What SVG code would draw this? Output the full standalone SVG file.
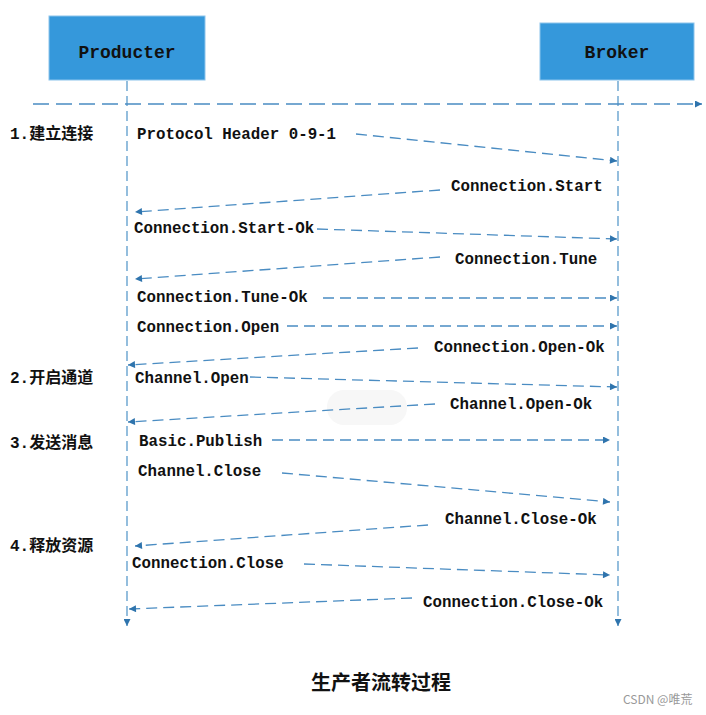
<svg xmlns="http://www.w3.org/2000/svg" width="706" height="715" viewBox="0 0 706 715">
<style>
.box{fill:#3598db;stroke:#8cc4ec;stroke-width:1}
.hd{font-family:"Liberation Mono",monospace;font-weight:bold;font-size:18px;fill:#111;text-anchor:middle}
.m{font-family:"Liberation Mono",monospace;font-weight:bold;font-size:15.8px;fill:#111}
.cn{font-family:"Liberation Mono","Noto Sans CJK SC",sans-serif;font-weight:bold;font-size:16px;fill:#111}
.life{stroke:#5b9bcb;stroke-width:1.3;stroke-dasharray:10 5;fill:none}
.msg{stroke:#4a8cc2;stroke-width:1.3;stroke-dasharray:11 6;fill:none;marker-end:url(#ah)}
.axis{stroke:#4a8cc2;stroke-width:1.3;stroke-dasharray:16 7;fill:none;marker-end:url(#ah)}
</style>
<defs>
<marker id="ah" viewBox="0 0 10 10" refX="10" refY="5" markerWidth="8" markerHeight="7" markerUnits="userSpaceOnUse" orient="auto">
<path d="M0,0 L10,5 L0,10 z" fill="#2f74ad"/>
</marker>
</defs>
<rect width="706" height="715" fill="#fff"/>
<rect x="327" y="390" width="80" height="35" rx="17" fill="#f7f7f7"/>
<g id="producer">
<rect class="box" x="49" y="16" width="156" height="64"/>
<text class="hd" x="127" y="58">Producter</text>
</g>
<g id="broker">
<rect class="box" x="540" y="23" width="154" height="57"/>
<text class="hd" x="617" y="58">Broker</text>
</g>
<g id="connectors">
<line class="life" x1="127" y1="81" x2="127" y2="626" marker-end="url(#ah)"/>
<line class="life" x1="618" y1="81" x2="618" y2="626" marker-end="url(#ah)"/>
<line class="axis" x1="33" y1="104" x2="702" y2="104"/>
<line class="msg" x1="356" y1="134" x2="617" y2="161"/>
<line class="msg" x1="440" y1="190" x2="135" y2="212"/>
<line class="msg" x1="317" y1="229" x2="617" y2="239"/>
<line class="msg" x1="440" y1="257" x2="135" y2="279"/>
<line class="msg" x1="323" y1="298" x2="617" y2="298"/>
<line class="msg" x1="287" y1="326" x2="617" y2="326"/>
<line class="msg" x1="418" y1="348" x2="128" y2="365"/>
<line class="msg" x1="250" y1="377" x2="617" y2="387"/>
<line class="msg" x1="435" y1="404" x2="128" y2="422"/>
<line class="msg" x1="272" y1="440" x2="610" y2="440"/>
<line class="msg" x1="282" y1="473" x2="610" y2="502"/>
<line class="msg" x1="428" y1="525" x2="135" y2="546"/>
<line class="msg" x1="304" y1="564" x2="610" y2="575"/>
<line class="msg" x1="412" y1="598" x2="129" y2="609"/>
</g>
<g id="labels">
<text class="cn" x="10" y="139">1.建立连接</text>
<text class="cn" x="10" y="383">2.开启通道</text>
<text class="cn" x="10" y="448">3.发送消息</text>
<text class="cn" x="10" y="551">4.释放资源</text>
<text class="m" x="137" y="139">Protocol Header 0-9-1</text>
<text class="m" x="451" y="191">Connection.Start</text>
<text class="m" x="134" y="233">Connection.Start-Ok</text>
<text class="m" x="455" y="264">Connection.Tune</text>
<text class="m" x="137" y="302">Connection.Tune-Ok</text>
<text class="m" x="137" y="332">Connection.Open</text>
<text class="m" x="434" y="352">Connection.Open-Ok</text>
<text class="m" x="135" y="383">Channel.Open</text>
<text class="m" x="450" y="409">Channel.Open-Ok</text>
<text class="m" x="139" y="446">Basic.Publish</text>
<text class="m" x="138" y="476">Channel.Close</text>
<text class="m" x="445" y="524">Channel.Close-Ok</text>
<text class="m" x="132" y="568">Connection.Close</text>
<text class="m" x="423" y="607">Connection.Close-Ok</text>
</g>
<text x="381" y="690" text-anchor="middle" font-family="'Noto Sans CJK SC',sans-serif" font-weight="bold" font-size="20" fill="#111">生产者流转过程</text>
<text x="623" y="704" font-family="'Noto Sans CJK SC',sans-serif" font-size="12" fill="#999">CSDN @唯荒</text>
</svg>
